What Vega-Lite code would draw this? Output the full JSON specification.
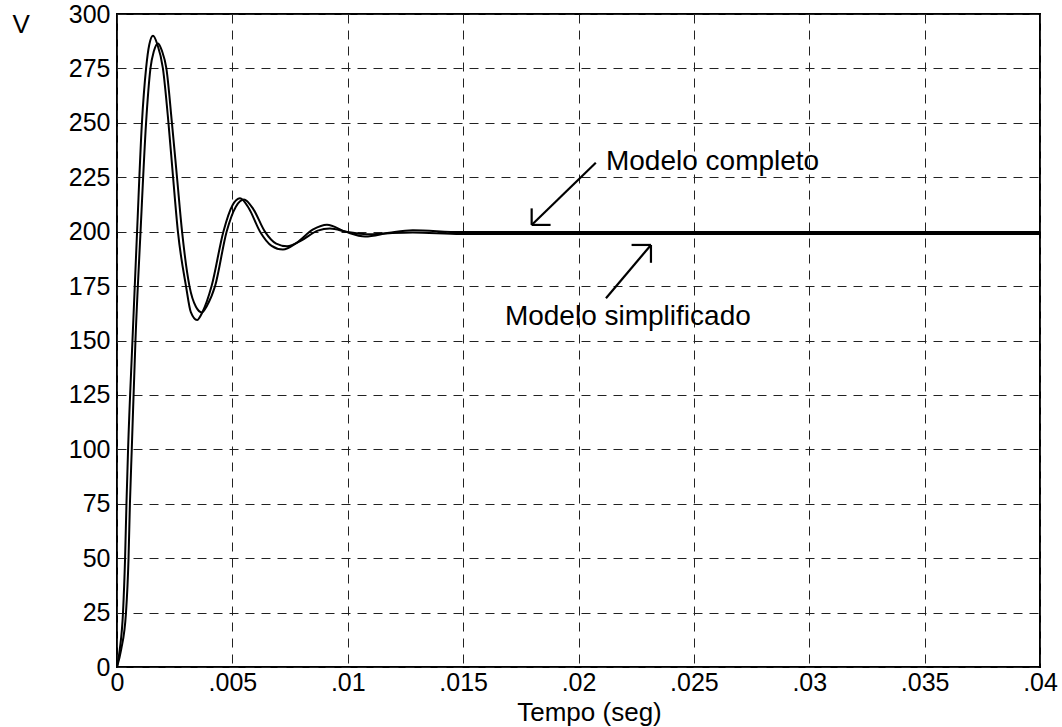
{
  "$schema": "https://vega.github.io/schema/vega-lite/v6.json",
  "width": 923,
  "height": 653,
  "autosize": {"type": "none"},
  "padding": {"left": 117, "top": 14, "right": 22, "bottom": 60},
  "background": "white",
  "config": {
    "view": {"stroke": "black", "strokeWidth": 2},
    "font": "Liberation Sans"
  },
  "datasets": {
    "curves": [
      {"model": "Modelo completo", "t": 0, "v": 0},
      {"model": "Modelo completo", "t": 0.00012, "v": 8},
      {"model": "Modelo completo", "t": 0.00026, "v": 25},
      {"model": "Modelo completo", "t": 0.00035, "v": 50},
      {"model": "Modelo completo", "t": 0.00041, "v": 75},
      {"model": "Modelo completo", "t": 0.00048, "v": 100},
      {"model": "Modelo completo", "t": 0.00067, "v": 150},
      {"model": "Modelo completo", "t": 0.00087, "v": 200},
      {"model": "Modelo completo", "t": 0.00108, "v": 250},
      {"model": "Modelo completo", "t": 0.00126, "v": 275},
      {"model": "Modelo completo", "t": 0.0014, "v": 286},
      {"model": "Modelo completo", "t": 0.00156, "v": 290},
      {"model": "Modelo completo", "t": 0.00175, "v": 286},
      {"model": "Modelo completo", "t": 0.00199, "v": 275},
      {"model": "Modelo completo", "t": 0.00223, "v": 250},
      {"model": "Modelo completo", "t": 0.00243, "v": 225},
      {"model": "Modelo completo", "t": 0.00264, "v": 200},
      {"model": "Modelo completo", "t": 0.00299, "v": 175},
      {"model": "Modelo completo", "t": 0.0032, "v": 163},
      {"model": "Modelo completo", "t": 0.00347, "v": 159.4},
      {"model": "Modelo completo", "t": 0.0037, "v": 163},
      {"model": "Modelo completo", "t": 0.0041, "v": 175},
      {"model": "Modelo completo", "t": 0.00461, "v": 200},
      {"model": "Modelo completo", "t": 0.005, "v": 212},
      {"model": "Modelo completo", "t": 0.00533, "v": 215.3},
      {"model": "Modelo completo", "t": 0.0057, "v": 211},
      {"model": "Modelo completo", "t": 0.0062, "v": 200},
      {"model": "Modelo completo", "t": 0.0067, "v": 193.5},
      {"model": "Modelo completo", "t": 0.00719, "v": 191.8},
      {"model": "Modelo completo", "t": 0.0078, "v": 195},
      {"model": "Modelo completo", "t": 0.0085, "v": 201},
      {"model": "Modelo completo", "t": 0.0091, "v": 203.2},
      {"model": "Modelo completo", "t": 0.0099, "v": 200},
      {"model": "Modelo completo", "t": 0.01075, "v": 197.8},
      {"model": "Modelo completo", "t": 0.0118, "v": 199.5},
      {"model": "Modelo completo", "t": 0.01282, "v": 200.6},
      {"model": "Modelo completo", "t": 0.0149, "v": 199.8},
      {"model": "Modelo completo", "t": 0.04, "v": 199.8},
      {"model": "Modelo simplificado", "t": 0, "v": 0},
      {"model": "Modelo simplificado", "t": 0.00018, "v": 8},
      {"model": "Modelo simplificado", "t": 0.00039, "v": 25},
      {"model": "Modelo simplificado", "t": 0.0005, "v": 50},
      {"model": "Modelo simplificado", "t": 0.00056, "v": 75},
      {"model": "Modelo simplificado", "t": 0.00064, "v": 100},
      {"model": "Modelo simplificado", "t": 0.0008, "v": 150},
      {"model": "Modelo simplificado", "t": 0.00102, "v": 200},
      {"model": "Modelo simplificado", "t": 0.00126, "v": 250},
      {"model": "Modelo simplificado", "t": 0.00145, "v": 275},
      {"model": "Modelo simplificado", "t": 0.0016, "v": 283},
      {"model": "Modelo simplificado", "t": 0.00178, "v": 286.5},
      {"model": "Modelo simplificado", "t": 0.00195, "v": 283},
      {"model": "Modelo simplificado", "t": 0.00214, "v": 275},
      {"model": "Modelo simplificado", "t": 0.00238, "v": 250},
      {"model": "Modelo simplificado", "t": 0.0026, "v": 225},
      {"model": "Modelo simplificado", "t": 0.00282, "v": 200},
      {"model": "Modelo simplificado", "t": 0.00314, "v": 175},
      {"model": "Modelo simplificado", "t": 0.00342, "v": 165.5},
      {"model": "Modelo simplificado", "t": 0.00368, "v": 162.9},
      {"model": "Modelo simplificado", "t": 0.0039, "v": 166},
      {"model": "Modelo simplificado", "t": 0.00425, "v": 175},
      {"model": "Modelo simplificado", "t": 0.00475, "v": 200},
      {"model": "Modelo simplificado", "t": 0.00515, "v": 211.5},
      {"model": "Modelo simplificado", "t": 0.0055, "v": 214.8},
      {"model": "Modelo simplificado", "t": 0.0059, "v": 210.5},
      {"model": "Modelo simplificado", "t": 0.00641, "v": 200},
      {"model": "Modelo simplificado", "t": 0.0069, "v": 194.5},
      {"model": "Modelo simplificado", "t": 0.00737, "v": 193.3},
      {"model": "Modelo simplificado", "t": 0.008, "v": 196},
      {"model": "Modelo simplificado", "t": 0.0087, "v": 200.5},
      {"model": "Modelo simplificado", "t": 0.00923, "v": 201.5},
      {"model": "Modelo simplificado", "t": 0.01, "v": 199.8},
      {"model": "Modelo simplificado", "t": 0.01083, "v": 198.8},
      {"model": "Modelo simplificado", "t": 0.0118, "v": 199.3},
      {"model": "Modelo simplificado", "t": 0.01282, "v": 199.6},
      {"model": "Modelo simplificado", "t": 0.0149, "v": 198.9},
      {"model": "Modelo simplificado", "t": 0.04, "v": 198.9}
    ],
    "arrows": [
      {"t1": 0.02075, "v1": 231.7, "t2": 0.01797, "v2": 203.1},
      {"t1": 0.01797, "v1": 210.7, "t2": 0.01797, "v2": 203.1},
      {"t1": 0.01797, "v1": 203.1, "t2": 0.01879, "v2": 203.1},
      {"t1": 0.02119, "v1": 169.4, "t2": 0.02314, "v2": 193.9},
      {"t1": 0.0223, "v1": 193.9, "t2": 0.02314, "v2": 193.9},
      {"t1": 0.02314, "v1": 193.9, "t2": 0.02314, "v2": 185.7}
    ],
    "labels": [
      {"t": 0.02119, "v": 228.3, "label": "Modelo completo"},
      {"t": 0.01681, "v": 157.1, "label": "Modelo simplificado"}
    ]
  },
  "layer": [
    {
      "data": {"name": "curves"},
      "mark": {"type": "line", "strokeWidth": 2, "color": "black", "interpolate": "monotone"},
      "encoding": {
        "x": {
          "field": "t",
          "type": "quantitative",
          "scale": {"domain": [0, 0.04], "nice": false, "zero": false},
          "axis": {
            "values": [0, 0.005, 0.01, 0.015, 0.02, 0.025, 0.03, 0.035, 0.04],
            "labelExpr": "datum.value == 0 ? '0' : slice(format(datum.value, '.3~f'), 1)",
            "title": "Tempo (seg)",
            "titleX": 472,
            "grid": true,
            "gridDash": [9, 7],
            "gridColor": "#222222",
            "gridWidth": 1,
            "ticks": false,
            "domain": false,
            "labelFont": "Liberation Sans",
            "labelFontSize": 25,
            "labelColor": "black",
            "labelPadding": 3,
            "labelFlush": false,
            "titleFont": "Liberation Sans",
            "titleFontSize": 26,
            "titleFontWeight": "normal",
            "titleColor": "black",
            "titlePadding": 4
          }
        },
        "y": {
          "field": "v",
          "type": "quantitative",
          "scale": {"domain": [0, 300], "nice": false},
          "axis": {
            "values": [0, 25, 50, 75, 100, 125, 150, 175, 200, 225, 250, 275, 300],
            "title": "V",
            "titleAngle": 0,
            "titleAlign": "left",
            "titleBaseline": "top",
            "titleX": -105,
            "titleY": -3,
            "grid": true,
            "gridDash": [9, 7],
            "gridColor": "#222222",
            "gridWidth": 1,
            "ticks": false,
            "domain": false,
            "labelFont": "Liberation Sans",
            "labelFontSize": 25,
            "labelColor": "black",
            "labelPadding": 7,
            "labelFlush": false,
            "titleFont": "Liberation Sans",
            "titleFontSize": 26,
            "titleFontWeight": "normal",
            "titleColor": "black"
          }
        },
        "detail": {"field": "model", "type": "nominal"}
      }
    },
    {
      "data": {"name": "arrows"},
      "mark": {"type": "rule", "strokeWidth": 2.2, "color": "black"},
      "encoding": {
        "x": {"field": "t1", "type": "quantitative"},
        "y": {"field": "v1", "type": "quantitative"},
        "x2": {"field": "t2"},
        "y2": {"field": "v2"}
      }
    },
    {
      "data": {"name": "labels"},
      "mark": {"type": "text", "align": "left", "baseline": "alphabetic", "fontSize": 28, "font": "Liberation Sans", "color": "black"},
      "encoding": {
        "x": {"field": "t", "type": "quantitative"},
        "y": {"field": "v", "type": "quantitative"},
        "text": {"field": "label"}
      }
    }
  ]
}
